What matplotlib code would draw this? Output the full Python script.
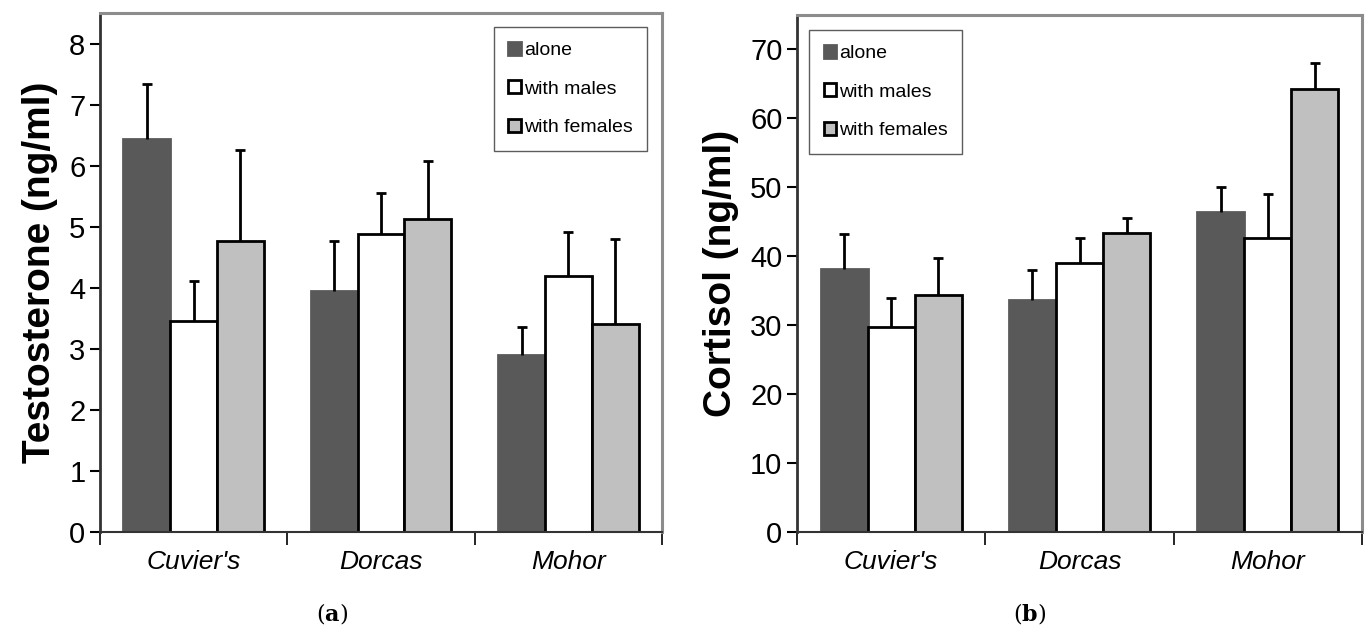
import numpy as np
import matplotlib
matplotlib.use('Agg')
import matplotlib.pyplot as plt

plt.rcParams['font.family'] = ['Liberation Sans', 'DejaVu Sans']
plt.rcParams['mathtext.fontset'] = 'dejavuserif'

species = ["Cuvier's", "Dorcas", "Mohor"]
groups = ['alone', 'with males', 'with females']

# testosterone (ng/ml): means and top of error bar
testo_mean = {'alone': [6.44, 3.94, 2.90],
              'with males': [3.46, 4.88, 4.19],
              'with females': [4.76, 5.13, 3.40]}
testo_top = {'alone': [7.33, 4.76, 3.36],
             'with males': [4.11, 5.55, 4.91],
             'with females': [6.25, 6.07, 4.80]}

# cortisol (ng/ml)
cort_mean = {'alone': [38.2, 33.7, 46.4],
             'with males': [29.7, 39.0, 42.6],
             'with females': [34.4, 43.4, 64.3]}
cort_top = {'alone': [43.3, 38.0, 50.0],
            'with males': [33.9, 42.6, 49.0],
            'with females': [39.8, 45.5, 68.0]}

colors = {'alone': '#595959', 'with males': '#ffffff', 'with females': '#c0c0c0'}
edges = {'alone': '#595959', 'with males': 'black', 'with females': 'black'}

W, H = 1369, 626
fig = plt.figure(figsize=(W / 100, H / 100), dpi=100)
ax1 = fig.add_axes([100 / W, 1 - 532 / H, 562 / W, 519 / H])
ax2 = fig.add_axes([797 / W, 1 - 532 / H, 565 / W, 517 / H])


def draw(ax, means, tops, ymax, yticks, ylabel, legend_loc, anchor):
    x = np.arange(len(species))
    w = 0.25
    for i, g in enumerate(groups):
        pos = x + (i - 1) * w
        m = np.array(means[g])
        err = np.array(tops[g]) - m
        ax.bar(pos, m, w, color=colors[g], edgecolor=edges[g], linewidth=2,
               label=g, zorder=2)
        eb = ax.errorbar(pos, m, yerr=[np.zeros_like(err), err], fmt='none',
                         ecolor='black', elinewidth=2, capsize=3.5, capthick=2,
                         zorder=3)
        eb[1][0].set_visible(False)  # no cap at the bar top
    ax.set_xlim(-0.5, 2.5)
    ax.set_ylim(0, ymax)
    ax.set_yticks(yticks)
    ax.tick_params(axis='y', labelsize=21, length=7, width=1.5, direction='out')
    ax.set_xticks(x)
    ax.set_xticklabels(species, fontsize=19, style='italic')
    ax.tick_params(axis='x', length=0, pad=13)
    ax.set_xticks([-0.5, 0.5, 1.5, 2.5], minor=True)
    ax.tick_params(axis='x', which='minor', length=9, width=1.2)
    ax.set_ylabel(ylabel, fontsize=28, fontweight='bold', labelpad=8)
    for s in ['top', 'right']:
        ax.spines[s].set_color('#8c8c8c')
        ax.spines[s].set_linewidth(2.2)
    ax.spines['left'].set_color('#333333')
    ax.spines['left'].set_linewidth(2)
    ax.spines['bottom'].set_color('#333333')
    ax.spines['bottom'].set_linewidth(1.5)
    leg = ax.legend(loc=legend_loc, bbox_to_anchor=anchor,
                    bbox_transform=fig.transFigure,
                    fontsize=14, frameon=True, fancybox=False,
                    handlelength=0.65, handleheight=0.65, handletextpad=0.15,
                    labelspacing=1.1, borderpad=0.75, borderaxespad=0)
    leg.get_frame().set_edgecolor('#333333')
    leg.get_frame().set_linewidth(1)


draw(ax1, testo_mean, testo_top, 8.5, range(0, 9), 'Testosterone (ng/ml)',
     'upper right', (647 / W, 1 - 27 / H))
draw(ax2, cort_mean, cort_top, 75, range(0, 80, 10), 'Cortisol (ng/ml)',
     'upper left', (809 / W, 1 - 30 / H))

fig.text(332 / W, 1 - 613 / H, r'$(\mathbf{a})$', ha='center', va='center',
         fontsize=16)
fig.text(1030 / W, 1 - 613 / H, r'$(\mathbf{b})$', ha='center', va='center',
         fontsize=16)

fig.savefig('out.png', dpi=100)
